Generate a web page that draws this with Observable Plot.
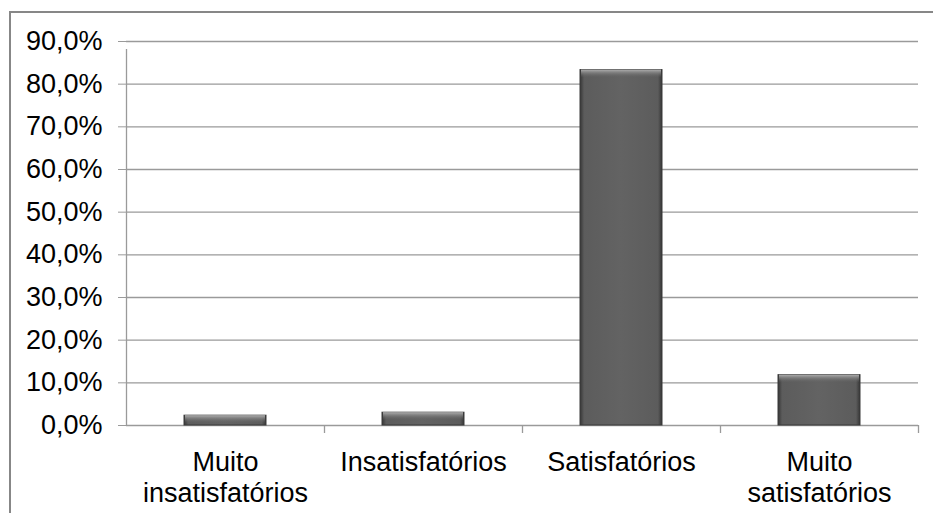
<!DOCTYPE html>
<html>
<head>
<meta charset="utf-8">
<script src="https://cdn.jsdelivr.net/npm/d3@7"></script>
<script src="https://cdn.jsdelivr.net/npm/@observablehq/plot@0.6"></script>
<style>
  html, body { margin: 0; padding: 0; background: #fff; }
  #wrap { position: relative; width: 933px; height: 513px; overflow: hidden; }
  #frame { position: absolute; left: 9px; top: 11px; right: -5px; bottom: -5px;
           border-top: 2px solid #878787; border-left: 2px solid #878787; pointer-events: none; }
</style>
</head>
<body>
<div id="wrap"><div id="frame"></div></div>
<script>
const categories = ["Muito\ninsatisfatórios", "Insatisfatórios", "Satisfatórios", "Muito\nsatisfatórios"];
const values = [2.3, 3.0, 83.3, 11.8];
const yTicks = [0, 10, 20, 30, 40, 50, 60, 70, 80, 90];

const data = categories.map((c, i) => ({category: c, value: values[i]}));
const font = "'Liberation Sans', Arial, sans-serif";
const half = (933 - 126 - 15) / categories.length / 2;

const plot = Plot.plot({
  width: 933,
  height: 513,
  marginTop: 41,
  marginBottom: 88,
  marginLeft: 126,
  marginRight: 15,
  style: {fontFamily: font, fontSize: "27px", color: "#000", background: "transparent", overflow: "visible"},
  x: {domain: categories, paddingInner: 0.586, paddingOuter: 0.293, label: null},
  y: {domain: [0, 90], label: null},
  marks: [
    Plot.ruleY(yTicks, {stroke: "#9a9a9a", strokeWidth: 1.3}),
    Plot.axisY({ticks: yTicks, tickSize: 8, tickPadding: 16, stroke: "#9a9a9a",
      tickFormat: d => d.toFixed(1).replace(".", ",") + "%", fill: "#000", fontSize: 27}),
    Plot.ruleX([categories[0]], {x: d => d, dx: -half, y1: 0, y2: 90, insetBottom: -8, stroke: "#9a9a9a", strokeWidth: 1.3}),
    Plot.ruleX(categories, {x: d => d, dx: half, y1: 0, y2: 0, insetBottom: -8, stroke: "#9a9a9a", strokeWidth: 1.3}),
    Plot.barY(data, {x: "category", y: "value", fill: "url(#barFace)", stroke: "#3a3a3a", strokeWidth: 1,
      style: "filter: drop-shadow(2px 3px 2px rgba(0,0,0,0.35))"}),
    Plot.rectY(data, {x: "category", y1: "value", y2: "value", insetBottom: -8, insetLeft: 1, insetRight: 1,
      fill: "url(#barTop)"}),
    Plot.axisX({tickSize: 0, tickPadding: 23, lineHeight: 1.15, fill: "#000", fontSize: 27})
  ]
});

const ns = "http://www.w3.org/2000/svg";
const defs = document.createElementNS(ns, "defs");
defs.innerHTML = `
  <linearGradient id="barFace" x1="0" x2="1" y1="0" y2="0">
    <stop offset="0" stop-color="#363636"/>
    <stop offset="0.05" stop-color="#5c5c5c"/>
    <stop offset="0.5" stop-color="#636363"/>
    <stop offset="0.95" stop-color="#5c5c5c"/>
    <stop offset="1" stop-color="#363636"/>
  </linearGradient>
  <linearGradient id="barTop" x1="0" x2="0" y1="0" y2="1">
    <stop offset="0" stop-color="#b0b0b0" stop-opacity="1"/>
    <stop offset="0.35" stop-color="#8a8a8a" stop-opacity="0.8"/>
    <stop offset="1" stop-color="#636363" stop-opacity="0"/>
  </linearGradient>`;
plot.insertBefore(defs, plot.firstChild);
document.getElementById("wrap").insertBefore(plot, document.getElementById("frame"));
</script>
</body>
</html>
